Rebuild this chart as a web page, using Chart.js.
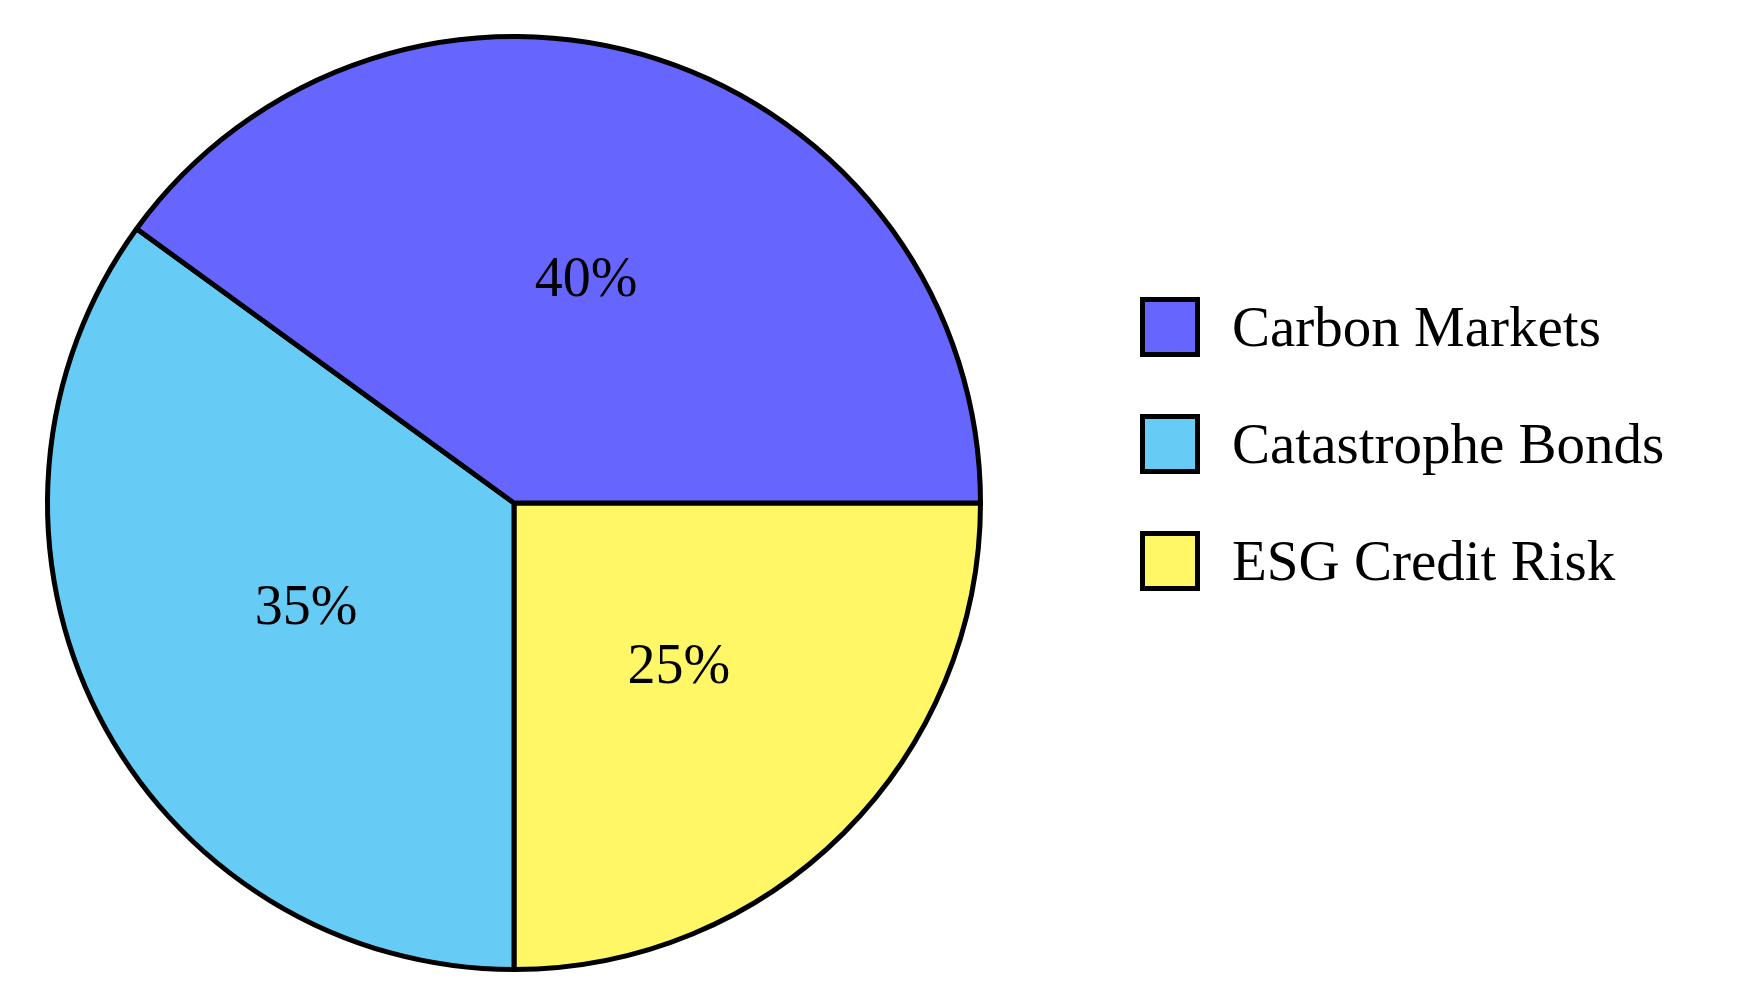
<!DOCTYPE html>
<html>
<head>
<meta charset="utf-8">
<script src="https://cdn.jsdelivr.net/npm/chart.js@4"></script>
<style>
  body { margin: 0; background: #fff; width: 1740px; height: 999px; overflow: hidden; position: relative; }
  #wrap { position: absolute; left: 0; top: 0; width: 1028px; height: 999px; }
  #legend { position: absolute; left: 1140px; top: 268px; font-family: "Liberation Serif", serif; font-size: 57px; color: #000; }
  .item { display: flex; align-items: center; height: 117px; }
  .box { width: 50px; height: 50px; border: 5px solid #000; margin-right: 32px; }
</style>
</head>
<body>
<div id="wrap"><canvas id="pie"></canvas></div>
<div id="legend"></div>
<script>
  // Values
  const categories = ['Carbon Markets', 'Catastrophe Bonds', 'ESG Credit Risk'];
  const shares = [40, 35, 25];
  const colours = ['#6666ff', '#66ccf5', '#fff766'];

  // Legend as real text
  const legendEl = document.getElementById('legend');
  categories.forEach((c, i) => {
    legendEl.innerHTML += `<div class="item"><div class="box" style="background:${colours[i]}"></div>${c}</div>`;
  });

  // Slices run counter-clockwise from 3 o'clock, so feed them reversed
  const rev = a => [...a].reverse();

  const sliceLabels = {
    id: 'sliceLabels',
    afterDatasetsDraw(chart) {
      const ctx = chart.ctx;
      const meta = chart.getDatasetMeta(0);
      const data = chart.data.datasets[0].data;
      ctx.save();
      ctx.font = '56px "Liberation Serif", serif';
      ctx.fillStyle = '#000';
      ctx.textAlign = 'center';
      ctx.textBaseline = 'middle';
      meta.data.forEach((arc, i) => {
        const p = arc.getProps(['x', 'y', 'startAngle', 'endAngle', 'outerRadius'], true);
        const mid = (p.startAngle + p.endAngle) / 2;
        const r = p.outerRadius * 0.5;
        ctx.fillText(data[i] + '%', p.x + Math.cos(mid) * r, p.y + Math.sin(mid) * r);
      });
      ctx.restore();
    }
  };

  new Chart(document.getElementById('pie'), {
    type: 'pie',
    data: {
      labels: rev(categories),
      datasets: [{
        data: rev(shares),
        backgroundColor: rev(colours),
        borderColor: '#000',
        borderWidth: 5
      }]
    },
    options: {
      responsive: true,
      maintainAspectRatio: false,
      animation: false,
      rotation: 90,
      layout: { padding: { top: 34, bottom: 27 } },
      plugins: { legend: { display: false }, tooltip: { enabled: false } }
    },
    plugins: [sliceLabels]
  });
</script>
</body>
</html>
